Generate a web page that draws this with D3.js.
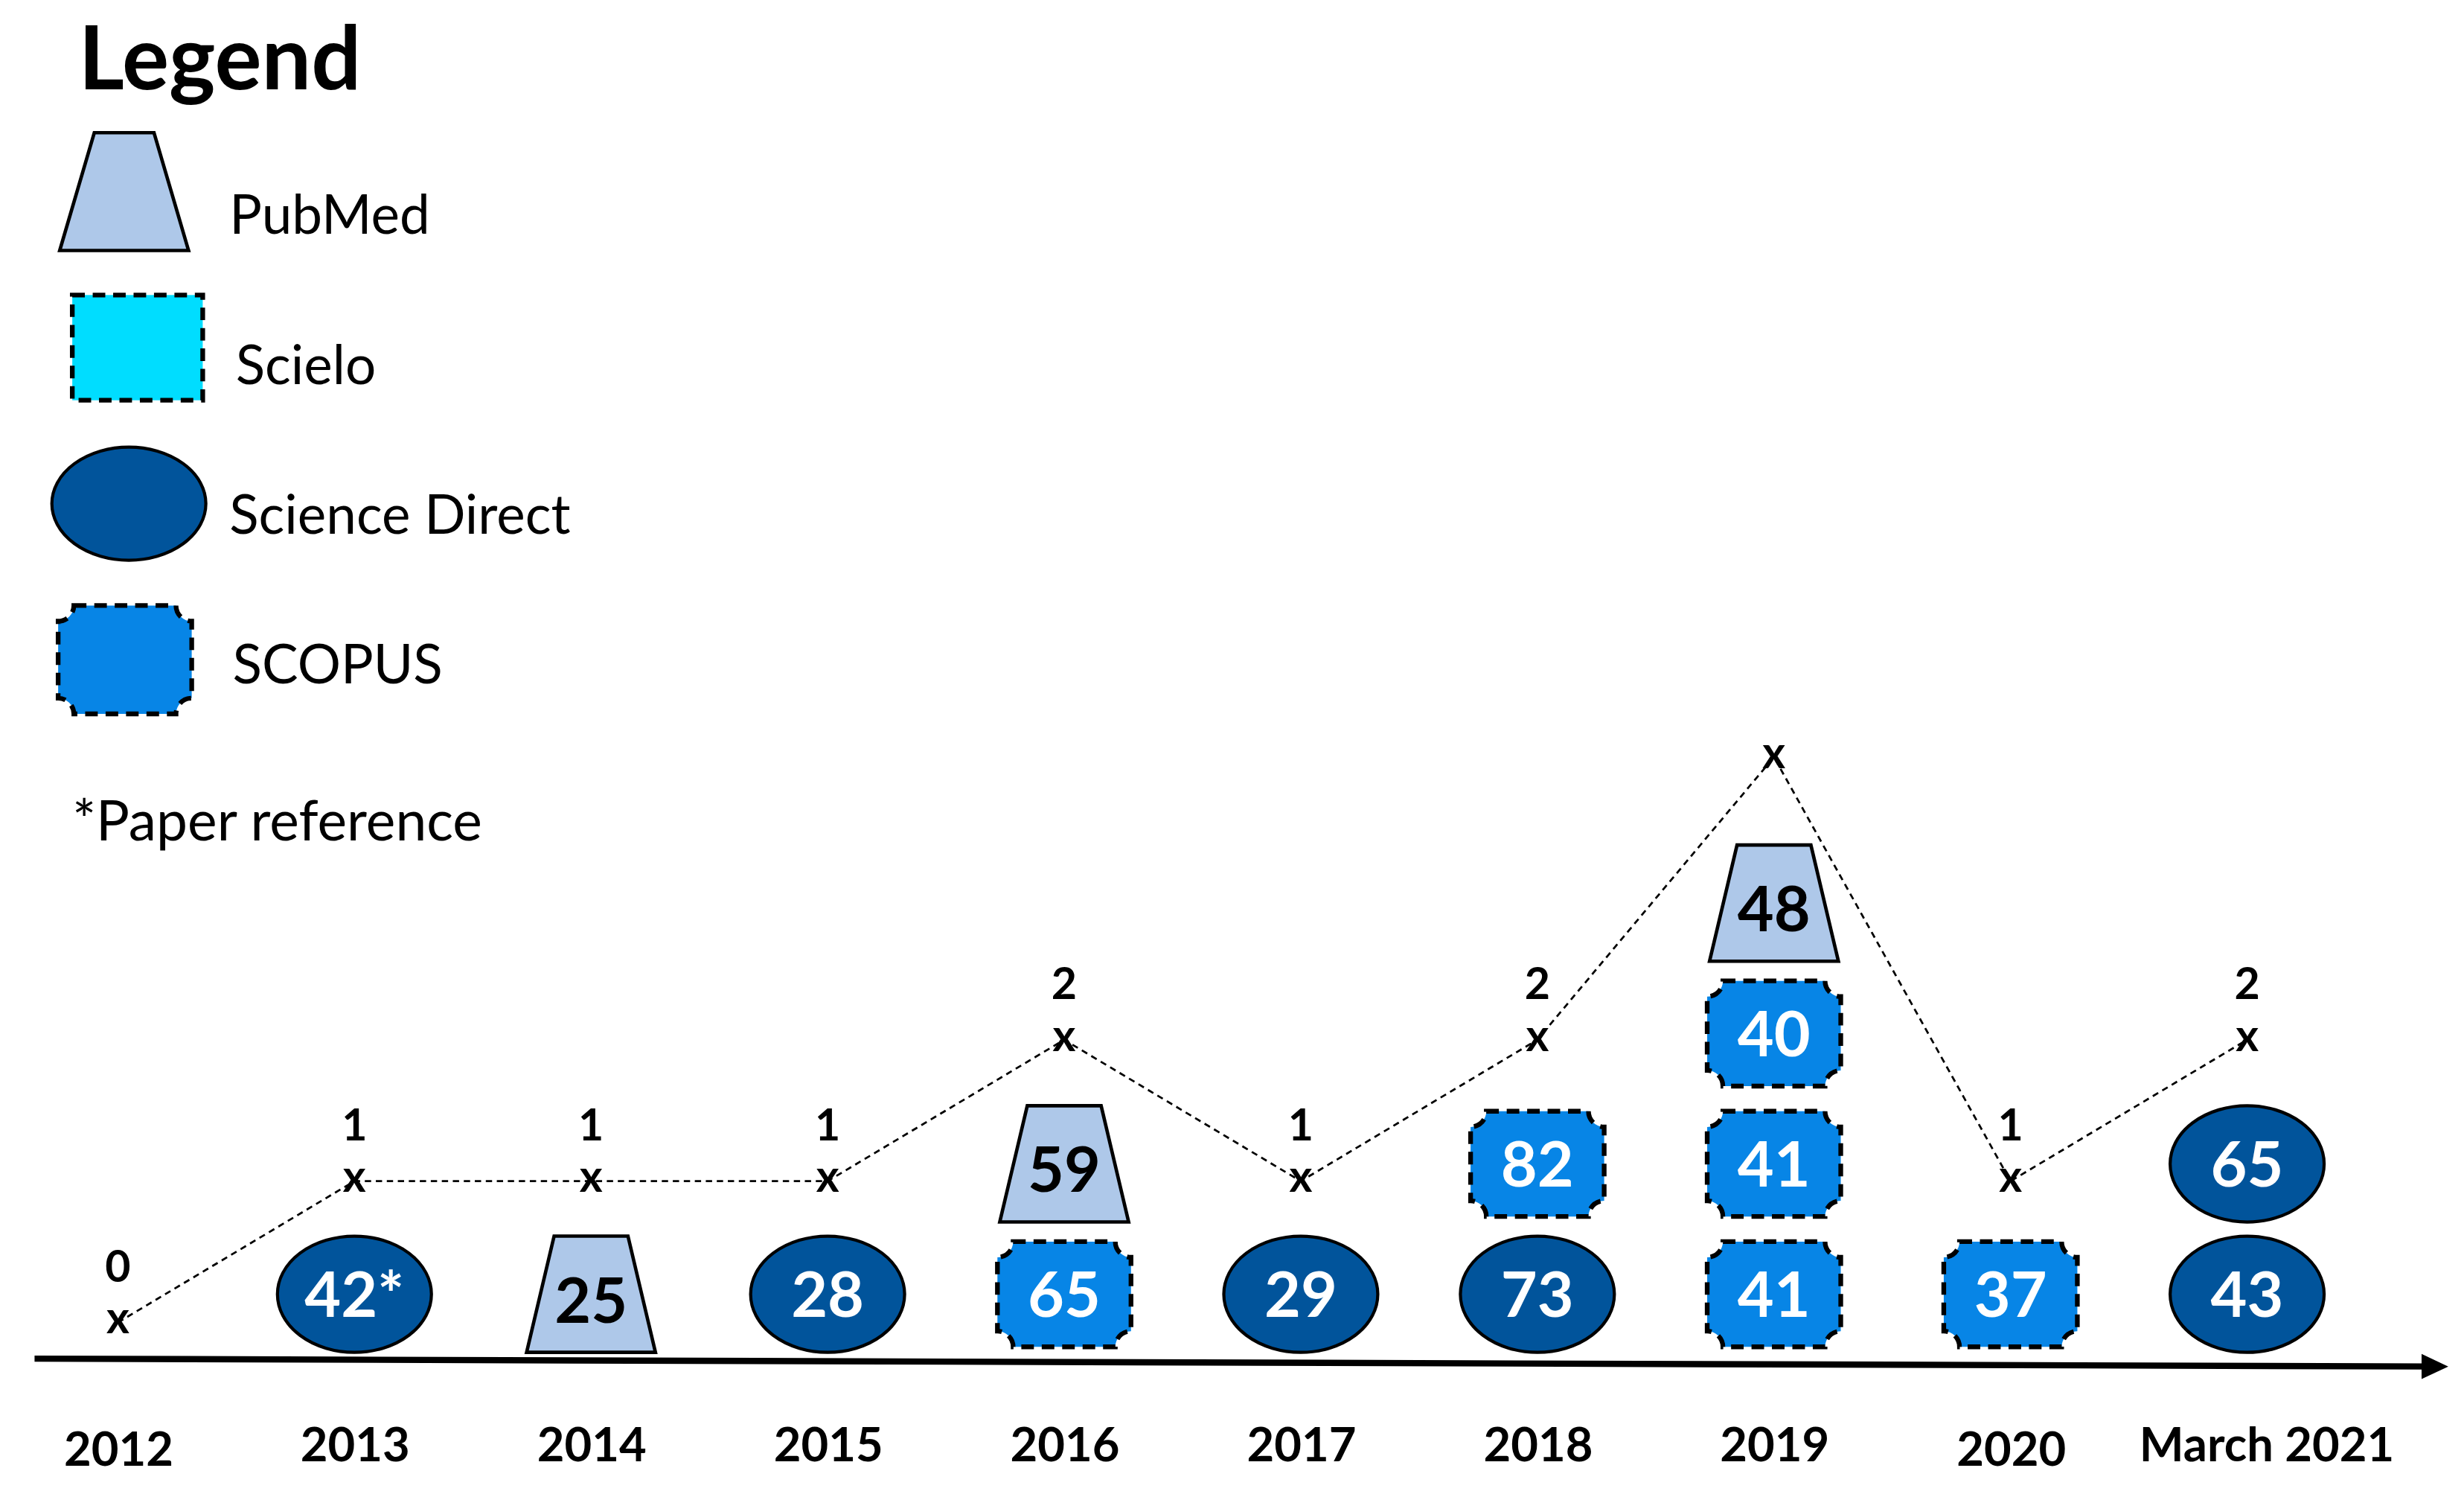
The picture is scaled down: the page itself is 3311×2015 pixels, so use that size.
<!DOCTYPE html>
<html><head><meta charset="utf-8">
<script src="https://cdn.jsdelivr.net/npm/d3@7"></script>
<style>html,body{margin:0;padding:0;background:#fff;} svg{display:block}</style>
</head><body>
<svg id="chart" width="3311" height="2015" viewBox="0 0 1568 955" preserveAspectRatio="none"></svg>
<script>
// ---------- data ----------
const categories = ["2012","2013","2014","2015","2016","2017","2018","2019","2020","March 2021"];
const articleCounts = [0,1,1,1,2,1,2,4,1,2];
const countLabels = ["0","1","1","1","2","1","2","","1","2"];
// stacked records, listed bottom to top within each category
const recordCategory = ["2013","2014","2015","2016","2016","2017","2018","2018","2019","2019","2019","2019","2020","March 2021","March 2021"];
const recordSource = ["Science Direct","PubMed","Science Direct","SCOPUS","PubMed","Science Direct","Science Direct","SCOPUS","SCOPUS","SCOPUS","SCOPUS","PubMed","SCOPUS","Science Direct","Science Direct"];
const recordValue = [42,25,28,65,59,29,73,82,41,41,40,48,37,43,65];
const recordNote = ["*","","","","","","","","","","","","","",""];
const sources = ["PubMed","Scielo","Science Direct","SCOPUS"];
const sourceColors = ["#aec8e9","#00ddff","#01549b","#0785e6"];
const legendTitle = "Legend";
const footnote = "*Paper reference";

// ---------- setup ----------
const svg = d3.select("#chart");
const FONT = "Lato, 'Open Sans', sans-serif";
const color = d3.scaleOrdinal().domain(sources).range(sourceColors);
const x = d3.scalePoint().domain(categories).range([75, 1430]);
const yLevel = d3.scaleLinear().domain([0, 1]).range([824, 741]);
const yCount = d3.scaleLinear().domain([0, 1]).range([842, 752]);

function plaque(w, h, r) {
  const x0 = -w/2, y0 = -h/2, x1 = w/2, y1 = h/2;
  return `M${x0+r},${y0} L${x1-r},${y0} A${r},${r} 0 0 0 ${x1},${y0+r} L${x1},${y1-r} A${r},${r} 0 0 0 ${x1-r},${y1} L${x0+r},${y1} A${r},${r} 0 0 0 ${x0},${y1-r} L${x0},${y0+r} A${r},${r} 0 0 0 ${x0+r},${y0} Z`;
}
function trapezoid(tw, bw, h) {
  return `M${-tw/2},${-h/2} L${tw/2},${-h/2} L${bw/2},${h/2} L${-bw/2},${h/2} Z`;
}
function drawShape(g, source, big) {
  const c = color(source);
  if (source === "PubMed") {
    g.append("path").attr("d", big ? trapezoid(38, 82, 75) : trapezoid(47, 82, 74))
      .attr("fill", c).attr("stroke", "#000").attr("stroke-width", 2.2);
  } else if (source === "Scielo") {
    g.append("rect").attr("x", -41.5).attr("y", -33.5).attr("width", 83).attr("height", 67)
      .attr("fill", c).attr("stroke", "#000").attr("stroke-width", 3).attr("stroke-dasharray", "8,5");
  } else if (source === "Science Direct") {
    g.append("ellipse").attr("rx", 49).attr("ry", big ? 36 : 37)
      .attr("fill", c).attr("stroke", "#000").attr("stroke-width", 2);
  } else {
    g.append("path").attr("d", plaque(85, big ? 69 : 67, 10))
      .attr("fill", c).attr("stroke", "#000").attr("stroke-width", 3).attr("stroke-dasharray", "8,5");
  }
}

// ---------- legend ----------
svg.append("text").attr("x", 50).attr("y", 57).text(legendTitle)
  .attr("font-family", FONT).attr("font-weight", 700).attr("font-size", 56).attr("fill", "#000");
const yLeg = d3.scalePoint().domain(sources).range([122, 420]);
const yLegLabel = d3.scalePoint().domain(sources).range([149, 435]);
const legShapeX = [79, 87.5, 82, 79.5];
const legLabelX = [146, 150, 146, 148];
sources.forEach((s, i) => {
  const g = svg.append("g").attr("transform", `translate(${legShapeX[i]},${yLeg(s)})`);
  drawShape(g, s, true);
  svg.append("text").attr("x", legLabelX[i]).attr("y", yLegLabel(s)).text(s)
    .attr("font-family", FONT).attr("font-size", 34.5).attr("fill", "#000");
});
svg.append("text").attr("x", 46).attr("y", 535).text(footnote)
  .attr("font-family", FONT).attr("font-size", 35.5).attr("fill", "#000");

// ---------- axis ----------
svg.append("line").attr("x1", 22).attr("y1", 865).attr("x2", 1545).attr("y2", 870)
  .attr("stroke", "#000").attr("stroke-width", 4);
svg.append("path").attr("d", "M1541,862 L1558,870 L1541,878 Z").attr("fill", "#000");

const axis = d3.axisBottom(x).tickSize(0).tickPadding(42);
const axG = svg.append("g").attr("transform", "translate(0,867)").call(axis);
axG.select(".domain").remove();
axG.selectAll("text").attr("font-family", FONT).attr("font-weight", 700)
  .attr("font-size", 30).attr("fill", "#000")
  .attr("dx", (d) => d === "March 2021" ? 12 : 0)
  .attr("dy", (d) => (d === "2012" || d === "2020") ? "0.8em" : "0.71em");

// ---------- stacked records ----------
const counter = {};
const records = recordValue.map((v, i) => {
  const cat = recordCategory[i];
  counter[cat] = (counter[cat] || 0);
  const level = counter[cat]++;
  return {cat, source: recordSource[i], value: v, note: recordNote[i], level};
});
const rg = svg.selectAll("g.rec").data(records).enter().append("g")
  .attr("class", "rec")
  .attr("transform", d => `translate(${x(d.cat)},${yLevel(d.level)})`);
rg.each(function(d) { drawShape(d3.select(this), d.source, false); });
rg.append("text").text(d => d.value + d.note)
  .attr("text-anchor", "middle").attr("dy", d => d.source === "PubMed" ? "0.45em" : "0.36em")
  .attr("font-family", FONT).attr("font-weight", 700).attr("font-size", 40)
  .attr("fill", d => d.source === "PubMed" ? "#000" : "#fff");

// ---------- count line ----------
const pts = categories.map((c, i) => ({c, v: articleCounts[i], label: countLabels[i]}));
svg.append("path").datum(pts)
  .attr("d", d3.line().x(d => x(d.c)).y(d => yCount(d.v)))
  .attr("fill", "none").attr("stroke", "#000").attr("stroke-width", 1.3).attr("stroke-dasharray", "4,3");
svg.selectAll("text.mk").data(pts).enter().append("text").attr("class", "mk")
  .attr("x", d => x(d.c)).attr("y", d => yCount(d.v)).attr("dy", "0.25em")
  .attr("text-anchor", "middle").text("x")
  .attr("font-family", FONT).attr("font-weight", 700).attr("font-size", 28).attr("fill", "#000");
svg.selectAll("text.cl").data(pts).enter().append("text").attr("class", "cl")
  .attr("x", d => x(d.c)).attr("y", d => yCount(d.v) - 26)
  .attr("text-anchor", "middle").text(d => d.label)
  .attr("font-family", FONT).attr("font-weight", 700).attr("font-size", 28).attr("fill", "#000");
</script>
</body></html>
